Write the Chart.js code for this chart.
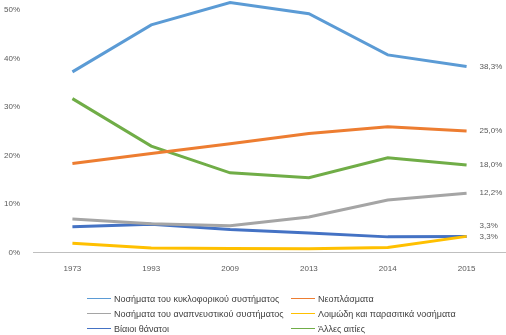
<!DOCTYPE html>
<html>
<head>
<meta charset="utf-8">
<script src="https://cdn.jsdelivr.net/npm/chart.js@4"></script>
<style>
  body { margin: 0; background: #fff; }
  #wrap { position: relative; width: 506px; height: 335px; overflow: hidden; }
  #chart { position: absolute; left: 0; top: -8px; }
  #legend {
    position: absolute; left: 87px; top: 292px;
    display: grid; grid-template-columns: 204px auto; row-gap: 2px;
    font: 9px "Liberation Sans", Arial, sans-serif; color: #404040;
  }
  .item { display: flex; align-items: center; height: 13px; white-space: nowrap; }
  .item span { display: inline-block; width: 24px; height: 1.5px; margin-right: 3px; }
</style>
</head>
<body>
<div id="wrap">
  <canvas id="chart" width="506" height="343"></canvas>
  <div id="legend"></div>
</div>
<script>
"use strict";
const years = ["1973", "1993", "2009", "2013", "2014", "2015"];

const circulatory = [37.2, 46.9, 51.5, 49.2, 40.7, 38.3];
const neoplasms = [18.3, 20.4, 22.4, 24.5, 25.9, 25.0];
const respiratory = [6.9, 5.9, 5.5, 7.3, 10.8, 12.2];
const infectious = [1.9, 0.9, 0.8, 0.75, 1.0, 3.3];
const violent = [5.3, 5.8, 4.7, 4.0, 3.2, 3.3];
const other = [31.7, 21.9, 16.4, 15.4, 19.5, 18.0];

const names = [
  "Νοσήματα του κυκλοφορικού συστήματος",
  "Νεοπλάσματα",
  "Νοσήματα του αναπνευστικού συστήματος",
  "Λοιμώδη και παρασιτικά νοσήματα",
  "Βίαιοι θάνατοι",
  "Άλλες αιτίες",
];
const colors = ["#5b9bd5", "#ed7d31", "#a5a5a5", "#ffc000", "#4472c4", "#70ad47"];
const series = [circulatory, neoplasms, respiratory, infectious, violent, other];

const fmt = (v) => v.toFixed(1).replace(".", ",") + "%";

// end-of-line value labels, pushed apart when they overlap
const endLabels = {
  id: "endLabels",
  afterDatasetsDraw(chart) {
    const ctx = chart.ctx;
    const labels = [];
    chart.data.datasets.forEach((ds, i) => {
      const pts = chart.getDatasetMeta(i).data;
      const p = pts[pts.length - 1];
      labels.push({ x: p.x + 13, y: p.y, text: fmt(ds.data[ds.data.length - 1]) });
    });
    labels.sort((a, b) => b.y - a.y);
    for (let i = 1; i < labels.length; i++) {
      if (labels[i - 1].y - labels[i].y < 11) labels[i].y = labels[i - 1].y - 11;
    }
    ctx.save();
    ctx.font = '8px "Liberation Sans", Arial, sans-serif';
    ctx.fillStyle = "#595959";
    ctx.textBaseline = "middle";
    labels.forEach((l) => ctx.fillText(l.text, l.x, l.y));
    ctx.restore();
  },
};

const chart = new Chart(document.getElementById("chart"), {
  type: "line",
  data: {
    labels: years,
    datasets: series.map((d, i) => ({
      label: names[i],
      data: d,
      borderColor: colors[i],
      backgroundColor: colors[i],
      borderWidth: 3,
      pointRadius: 0,
      tension: 0,
      clip: false,
    })),
  },
  options: {
    responsive: false,
    animation: false,
    layout: { padding: { top: -2, right: 0, bottom: 49, left: 0 } },
    plugins: { legend: { display: false }, tooltip: { enabled: false } },
    scales: {
      x: {
        offset: true,
        grid: { display: false, drawTicks: false },
        border: { color: "#bfbfbf", width: 1 },
        ticks: { color: "#595959", font: { size: 8, family: "Liberation Sans" }, padding: 12 },
      },
      y: {
        min: 0,
        max: 50,
        grid: { display: false, drawTicks: false },
        border: { display: false },
        afterFit: (axis) => { axis.width = 33; },
        ticks: {
          stepSize: 10,
          padding: 13,
          color: "#595959",
          font: { size: 8, family: "Liberation Sans" },
          callback: (v) => v + "%",
        },
      },
    },
  },
  plugins: [endLabels],
});

const legend = document.getElementById("legend");
chart.data.datasets.forEach((ds) => {
  const item = document.createElement("div");
  item.className = "item";
  const line = document.createElement("span");
  line.style.background = ds.borderColor;
  item.appendChild(line);
  item.appendChild(document.createTextNode(ds.label));
  legend.appendChild(item);
});
</script>
</body>
</html>
